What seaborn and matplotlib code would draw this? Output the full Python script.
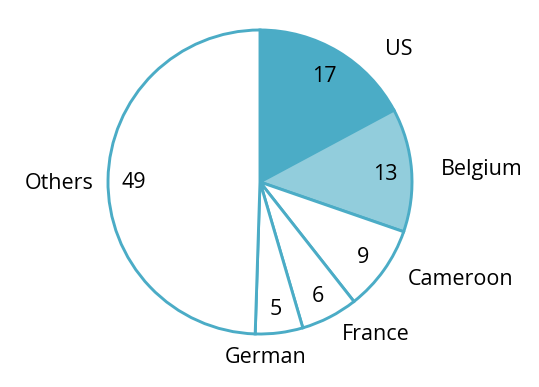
import matplotlib
matplotlib.use("Agg")
import matplotlib.pyplot as plt
import seaborn as sns

categories = ["US", "Belgium", "Cameroon", "France", "German", "Others"]
values = [17, 13, 9, 6, 5, 49]

sns.set_theme(style="white")
plt.rcParams['font.family'] = ['Open Sans', 'DejaVu Sans']

W, H = 539, 387
fig = plt.figure(figsize=(W / 100, H / 100), dpi=100)
ax = fig.add_axes([0, 0, 1, 1])

edge = "#4BACC6"
fills = ["#4BACC6", "#92CDDC", "white", "white", "white", "white"]
total = sum(values)

cx, cy, r = 260, H - 182, 152
wedges, _, autotexts = ax.pie(
    values, colors=fills, startangle=90, counterclock=False,
    center=(cx, cy), radius=r, frame=True,
    autopct=lambda p: f"{round(p * total / 100)}", pctdistance=0.83,
    wedgeprops=dict(edgecolor=edge, linewidth=2.1),
    textprops=dict(fontsize=15.5, color="black"),
)
for t in autotexts:
    t.set_va("center_baseline")
ax.set_xlim(0, W)
ax.set_ylim(0, H)
ax.set_aspect("equal")
ax.axis("off")

label_pos = [(399, 47), (482, 167), (461, 277), (376, 332), (266, 355), (59, 181)]
for name, (x, y) in zip(categories, label_pos):
    ax.text(x, H - y, name, ha="center", va="center_baseline", fontsize=15.5, color="black")

fig.savefig("out.png", dpi=100)
